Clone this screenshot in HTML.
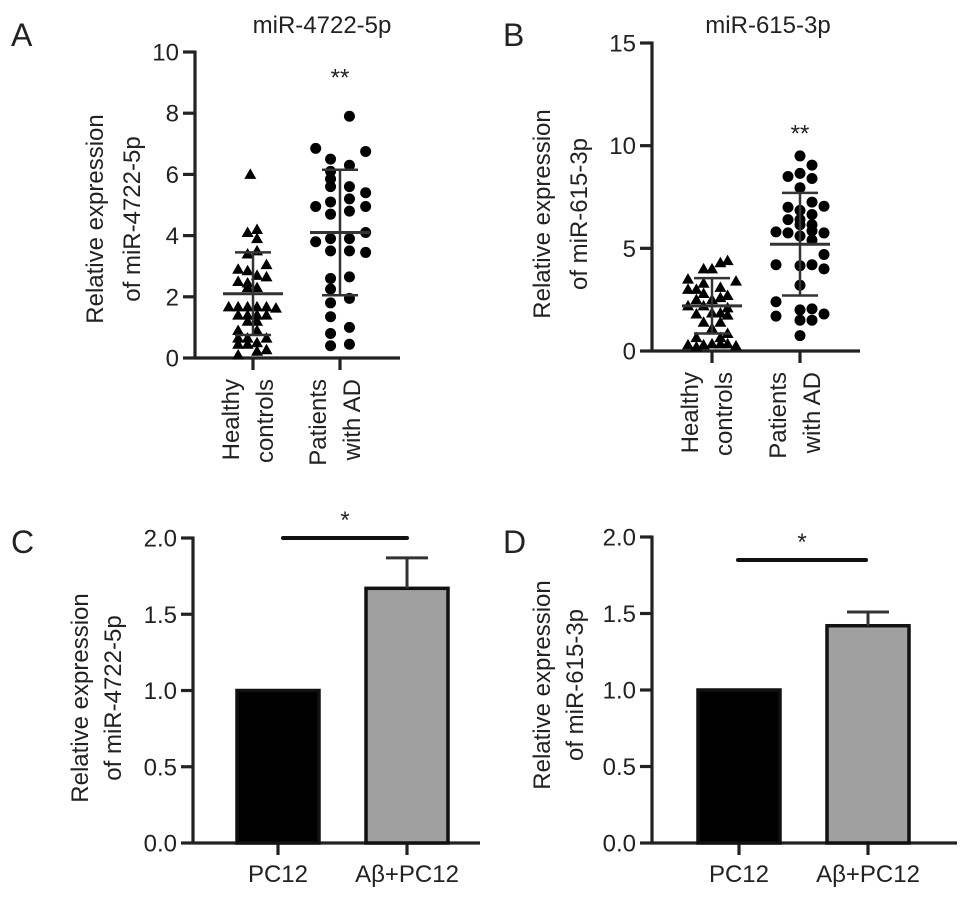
<!DOCTYPE html>
<html><head><meta charset="utf-8">
<style>
body{margin:0;background:#fff;}
svg{display:block;font-family:"Liberation Sans",Arial,sans-serif;}
</style></head>
<body>
<svg id="c" width="969" height="903" viewBox="0 0 969 903" xmlns="http://www.w3.org/2000/svg"></svg>
<script>
// ---- Panel A data ----
const aHealthy=[6.0,4.1,4.2,3.9,3.4,3.5,2.9,2.85,3.05,2.5,2.45,2.7,2.65,2.3,2.3,1.67,1.67,1.67,1.67,1.67,1.63,1.4,1.4,1.4,1.4,1.2,1.2,0.9,0.9,0.65,0.65,0.65,0.45,0.45,0.5,0.1,0.22,0.27];
const aHealthyJit=[-0.2,-0.4,0.3,0.3,-0.4,0.3,-1.1,-0.4,1.0,-1.1,-0.4,0.3,1.0,-0.4,0.3,-1.8,-1.1,-0.4,0.3,1.0,1.7,-1.1,-0.4,0.3,1.0,-0.4,0.3,-1.1,0.3,-1.1,-0.4,1.0,-1.1,-0.4,0.3,-1.1,0.3,1.0];
const aAD=[7.9,6.85,6.75,6.5,6.3,6.1,5.85,5.6,5.6,5.4,4.95,5.1,5.2,4.95,4.7,4.8,3.8,3.9,3.9,4.1,3.5,3.5,3.45,2.6,2.65,2.25,1.95,1.8,1.35,1.0,0.8,0.4,0.45];
const aADJit=[0.7,-1.8,1.9,-0.7,0.7,-0.7,-0.7,0.7,-0.7,1.9,-1.8,-0.7,0.7,1.9,-0.7,0.7,-1.8,-0.7,0.7,1.9,-0.7,0.7,1.9,-0.7,0.7,-0.7,0.7,-0.7,-0.7,0.7,-0.7,-0.7,0.7];
const aStats={hMean:2.1,hSD:1.35,dMean:4.1,dSD:2.05};
const aTicks=[0,2,4,6,8,10];
// ---- Panel B data ----
const bHealthy=[4.4,4.3,4.0,4.0,3.5,3.4,3.3,3.1,3.0,3.0,2.7,2.8,2.5,2.6,2.5,2.2,2.2,2.1,1.8,1.85,1.85,1.75,1.4,1.4,1.1,0.65,0.85,0.65,0.3,0.3,0.35,0.35,0.35,0.25,0.2];
const bHealthyJit=[1.3,0.7,0,-0.7,-2,2,-0.7,0.7,-2,-1.3,1.3,-0.7,-1.3,0.7,0,-2,-0.7,1.3,-1.3,0,0.7,1.3,-0.7,0.7,0,-1.3,1.3,0.7,-2,-0.7,0,0.7,1.3,2,-1.3];
const bAD=[9.5,9.05,8.5,8.65,8.4,7.95,7.25,7.05,7.0,6.85,6.65,6.4,6.4,6.15,6.15,5.8,5.75,5.6,5.85,5.75,5.4,4.7,4.2,4.15,4.2,4.0,3.2,2.4,1.7,2.0,2.05,1.8,1.5,1.5,0.75];
const bADJit=[0,1,-1,0,1,0,1,2,-1,0,1,-1,0,1,0,-2,-1,0,1,2,1,2,-2,0,1,2,0,-2,-2,0,1,2,0,1,0];
const bStats={hMean:2.2,hSD:1.35,dMean:5.2,dSD:2.5};
const bTicks=[0,5,10,15];
// ---- Panel C/D data ----
const barCats=["PC12","Aβ+PC12"];
const cVals=[1.0,1.67];
const cErr=[0,0.2];
const dVals=[1.0,1.42];
const dErr=[0,0.09];
const barTicks=[0,0.5,1.0,1.5,2.0];

const S=document.getElementById('c');
const NS='http://www.w3.org/2000/svg';
function el(tag,attrs,parent){const e=document.createElementNS(NS,tag);for(const k in attrs)e.setAttribute(k,attrs[k]);(parent||S).appendChild(e);return e;}
function txt(x,y,s,size,anchor,parent,rot){const t=el('text',{x:x,y:y,'font-size':size,'text-anchor':anchor||'middle',fill:'#222'},parent);if(rot)t.setAttribute('transform','rotate(-90 '+x+' '+y+')');t.textContent=s;return t;}

function yAxis(g,ax,y0,y1,vmax,ticks,fmt){
  const sy=v=>y0-(y0-y1)*v/vmax;
  el('line',{x1:ax,y1:y1-1.5,x2:ax,y2:y0+1.5,stroke:'#222','stroke-width':3.2},g);
  ticks.forEach(t=>{
    const tk=el('line',{x1:ax-12,y1:sy(t),x2:ax,y2:sy(t),stroke:'#222','stroke-width':3.2},g);
    
    const l=txt(ax-16,sy(t)+8.5,fmt(t),24,'end',g);
    
  });
  return sy;
}
function scatterPanel(o){
  const g=el('g',{});
  const sy=yAxis(g,o.ax,o.y0,o.y1,o.vmax,o.ticks,t=>String(t));
  el('line',{x1:o.ax,y1:o.y0,x2:o.xe,y2:o.y0,stroke:'#222','stroke-width':3.2,},g);
  [o.c1,o.c2].forEach(c=>el('line',{x1:c,y1:o.y0,x2:c,y2:o.y0+12,stroke:'#222','stroke-width':3.2},g));
  o.h.forEach((v,i)=>{
    const x=o.c1+o.hj[i]*o.js,y=sy(v);
    const p=el('polygon',{points:(x)+','+(y-6)+' '+(x-6)+','+(y+4.5)+' '+(x+6)+','+(y+4.5),fill:'#000'},g);
    
  });
  o.d.forEach((v,i)=>{
    const c=el('circle',{cx:o.c2+o.dj[i]*o.js,cy:sy(v),r:5.5,fill:'#000'},g);
    
  });
  [[o.c1,o.st.hMean,o.st.hSD],[o.c2,o.st.dMean,o.st.dSD]].forEach(([c,m,s])=>{
    el('line',{x1:c-30,y1:sy(m),x2:c+30,y2:sy(m),stroke:'#333','stroke-width':3,},g);
    el('line',{x1:c,y1:sy(m-s),x2:c,y2:sy(m+s),stroke:'#333','stroke-width':2.5},g);
    el('line',{x1:c-18,y1:sy(m-s),x2:c+18,y2:sy(m-s),stroke:'#333','stroke-width':2.5},g);
    el('line',{x1:c-18,y1:sy(m+s),x2:c+18,y2:sy(m+s),stroke:'#333','stroke-width':2.5},g);
  });
  const st=txt(o.c2,sy(o.starV),'**',24,'middle',g);
  const t=txt(o.tx,33,o.title,24,'middle',g);
  const cy=o.ycy;
  const y1t=txt(o.ytx,cy,'Relative expression',24,'middle',g,true);
  const y2t=txt(o.ytx+37,cy,'of '+o.title,24,'middle',g,true);
  [[o.c1,'Healthy','controls'],[o.c2,'Patients','with AD']].forEach(([c,a,b])=>{
    const l1=txt(c-14,o.y0+21,a,24,'end',g,true);
    const l2=txt(c+20,o.y0+21,b,24,'end',g,true);
  });
  const L=txt(o.lx,o.ly,o.letter,32,'start',g);
}
scatterPanel({name:'panel-a',ax:195,y0:358,y1:52,vmax:10,ticks:aTicks,xe:400,c1:253,c2:340,js:13.5,h:aHealthy,hj:aHealthyJit,d:aAD,dj:aADJit,st:aStats,starV:8.9,title:'miR-4722-5p',tx:322,ytx:103,ycy:219,lx:11,ly:46,letter:'A'});
scatterPanel({name:'panel-b',ax:652,y0:351,y1:43,vmax:15,ticks:bTicks,xe:860,c1:712,c2:800,js:12,h:bHealthy,hj:bHealthyJit,d:bAD,dj:bADJit,st:bStats,starV:10.2,title:'miR-615-3p',tx:768,ytx:550,ycy:214,lx:503,ly:46,letter:'B'});

function barPanel(o){
  const g=el('g',{});
  const sy=yAxis(g,o.ax,o.y0,o.y1,2,barTicks,t=>t.toFixed(1));
  el('line',{x1:o.ax,y1:o.y0,x2:o.xe,y2:o.y0,stroke:'#222','stroke-width':3.2,},g);
  const fills=['#000','#a0a0a0'];
  o.vals.forEach((v,i)=>{
    const cx=o.cx[i];
    el('line',{x1:cx,y1:o.y0,x2:cx,y2:o.y0+12,stroke:'#222','stroke-width':3.2},g);
    const r=el('rect',{x:cx-41,y:sy(v),width:82,height:o.y0-sy(v),fill:fills[i],stroke:'#111','stroke-width':3.5},g);
    
    if(o.err[i]>0){
      el('line',{x1:cx,y1:sy(v),x2:cx,y2:sy(v+o.err[i]),stroke:'#333','stroke-width':3},g);
      el('line',{x1:cx-21,y1:sy(v+o.err[i]),x2:cx+21,y2:sy(v+o.err[i]),stroke:'#333','stroke-width':3},g);
    }
    const l=txt(cx,o.y0+39,barCats[i],24,'middle',g);
  });
  el('line',{x1:o.sig[0],y1:o.sigY,x2:o.sig[1],y2:o.sigY,stroke:'#111','stroke-width':4,'stroke-linecap':'round',},g);
  const s=txt((o.sig[0]+o.sig[1])/2,o.sigY-10,'*',24,'middle',g);
  const a=txt(o.ytx,o.ycy,'Relative expression',24,'middle',g,true);
  const b=txt(o.ytx+33,o.ycy,'of '+o.mir,24,'middle',g,true);
  const L=txt(o.lx,o.ly,o.letter,32,'start',g);
}
barPanel({name:'panel-c',ax:193,y0:843,y1:538,xe:480,cx:[278,407],vals:cVals,err:cErr,sig:[283,407],sigY:538,mir:'miR-4722-5p',ytx:88,ycy:698,lx:11,ly:553,letter:'C'});
barPanel({name:'panel-d',ax:652,y0:843,y1:537,xe:957,cx:[739,868],vals:dVals,err:dErr,sig:[738,866],sigY:560,mir:'miR-615-3p',ytx:550,ycy:685,lx:503,ly:553,letter:'D'});
</script>
</body></html>
